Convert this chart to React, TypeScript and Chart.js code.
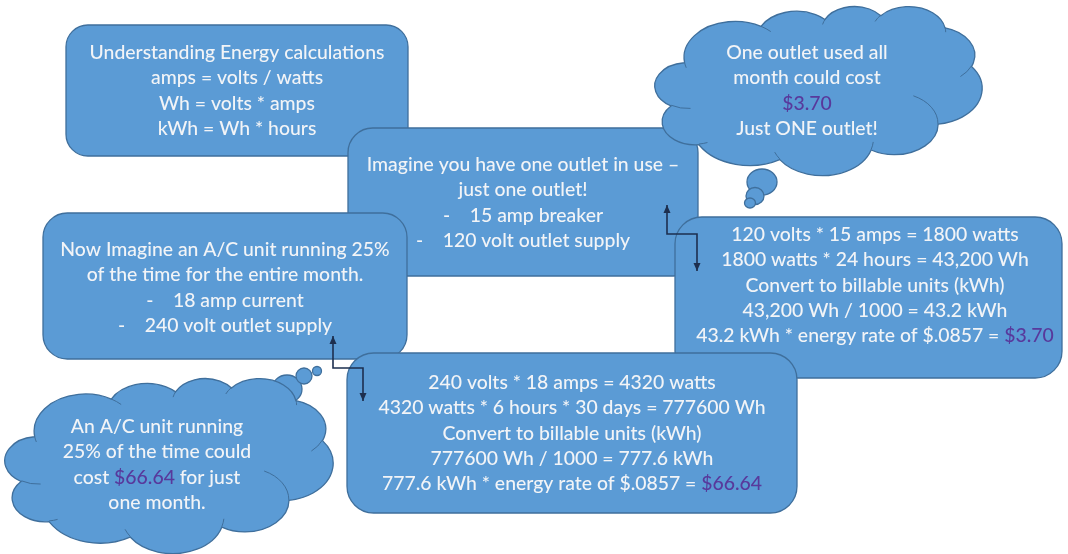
import React, { useEffect, useRef } from 'react';
import { Chart, registerables } from 'chart.js';

Chart.register(...registerables);

// ---------- Content (text of each panel; {..} marks highlighted price text) ----------
const introLines = [
  'Understanding Energy calculations',
  'amps = volts / watts',
  'Wh = volts * amps',
  'kWh = Wh * hours',
];
const outletLines = [
  'Imagine you have one outlet in use \u2013',
  'just one outlet!',
  '-    15 amp breaker',
  '-    120 volt outlet supply',
];
const outletCloudLines = ['One outlet used all', 'month could cost', '{$3.70}', 'Just ONE outlet!'];
const outletCalcLines = [
  '120 volts * 15 amps = 1800 watts',
  '1800 watts * 24 hours = 43,200 Wh',
  'Convert to billable units (kWh)',
  '43,200 Wh / 1000 = 43.2 kWh',
  '43.2 kWh * energy rate of $.0857 = {$3.70}',
];
const acLines = [
  'Now Imagine an A/C unit running 25%',
  'of the time for the entire month.',
  '-    18 amp current',
  '-    240 volt outlet supply',
];
const acCalcLines = [
  '240 volts * 18 amps = 4320 watts',
  '4320 watts * 6 hours * 30 days = 777600 Wh',
  'Convert to billable units (kWh)',
  '777600 Wh / 1000 = 777.6 kWh',
  '777.6 kWh * energy rate of $.0857 = {$66.64}',
];
const acCloudLines = ['An A/C unit running', '25% of the time could', 'cost {$66.64} for just', 'one month.'];

// ---------- Layout (positions in the 1068 x 554 diagram space) ----------
const W = 1068;
const H = 554;
const FILL = '#5b9bd5';
const EDGE = '#3f6f9c';
const TEXT = '#f2f4f7';
const PRICE = '#58399c';
const ARROW = '#1d2f4f';
const LINE_H = 25.2;
const FONT_FAMILY = 'Lato';
const FONT_WEIGHT = '500';

type Shape = {
  kind: 'box' | 'cloud';
  x0: number; y0: number; x1: number; y1: number;
  lines: string[]; cx: number; ty: number;
  bubbles?: number[][];
};

const shapes: Shape[] = [
  { kind: 'box', x0: 66, y0: 25, x1: 408, y1: 156, lines: introLines, cx: 237, ty: 53 },
  { kind: 'box', x0: 348, y0: 128, x1: 698, y1: 276, lines: outletLines, cx: 523, ty: 165 },
  {
    kind: 'cloud', x0: 655, y0: 6, x1: 982, y1: 175, lines: outletCloudLines, cx: 807, ty: 53,
    bubbles: [[762, 182, 15, 13], [755, 196, 9, 8.5], [750, 203, 5.5, 5]],
  },
  { kind: 'box', x0: 675, y0: 217, x1: 1062, y1: 378, lines: outletCalcLines, cx: 875, ty: 235 },
  { kind: 'box', x0: 43, y0: 213, x1: 407, y1: 359, lines: acLines, cx: 225, ty: 250 },
  { kind: 'box', x0: 347, y0: 353, x1: 797, y1: 513, lines: acCalcLines, cx: 572, ty: 383 },
  {
    kind: 'cloud', x0: 5, y0: 378, x1: 333, y1: 553, lines: acCloudLines, cx: 157, ty: 427,
    bubbles: [[287, 389, 15, 14], [304, 376, 8, 8], [317, 371, 4.5, 4.5]],
  },
];

// elbow connectors: first point = tip of start head, last point = tip of end head
const connectorA = [[667, 205], [667, 234], [697, 234], [697, 271]];
const connectorB = [[333, 336], [333, 368], [363, 368], [363, 401]];
const connectors = [connectorA, connectorB];

// Office "cloud" preset geometry (43200 x 43200 path space)
const CLOUD_START = [3900, 14370];
const CLOUD_ARCS = [
  [6753, 9190, -11429249, 7426832],
  [5333, 7267, -8646143, 5396714],
  [4365, 5945, -8748475, 5983381],
  [4857, 6595, -7859164, 7034504],
  [5333, 7273, -4722533, 6541615],
  [6775, 9220, -2776035, 7816140],
  [5785, 7867, 37501, 6842000],
  [6752, 9215, 1347096, 6910353],
  [7720, 10543, 3974558, 4542661],
  [4360, 5918, -16496525, 8804134],
  [4345, 5945, -14809710, 9151131],
];
const CLOUD_INNER = [
  [4693, 26177, 4345, 5945, 5204520, 1585770],
  [6928, 34899, 4360, 5918, 4416628, 686848],
  [16478, 39090, 6752, 9215, 8257449, 844866],
  [28827, 34751, 6752, 9215, 387196, 959901],
  [34129, 22954, 5785, 7867, -4217541, 4255042],
  [41798, 15354, 5333, 7273, 1819082, 1665090],
  [38324, 5426, 4857, 6595, -824660, 891534],
  [29078, 3952, 4857, 6595, -8950887, 1091722],
  [22141, 4720, 4365, 5945, -9809656, 1061181],
  [14000, 5192, 6753, 9190, -4002417, 739161],
  [4127, 15789, 6753, 9190, 9459261, 711490],
];

function arcSeg(
  ctx: CanvasRenderingContext2D, px: number, py: number,
  wR: number, hR: number, st: number, sw: number,
  map: (x: number, y: number) => number[], sx: number, sy: number,
) {
  const s = (st / 60000) * Math.PI / 180;
  const e = ((st + sw) / 60000) * Math.PI / 180;
  const t1 = Math.atan2(wR * Math.sin(s), hR * Math.cos(s));
  const t2 = Math.atan2(wR * Math.sin(e), hR * Math.cos(e));
  const cx = px - wR * Math.cos(t1);
  const cy = py - hR * Math.sin(t1);
  const [mx, my] = map(cx, cy);
  ctx.ellipse(mx, my, wR * sx, hR * sy, 0, t1, t2, sw < 0);
  return [cx + wR * Math.cos(t2), cy + hR * Math.sin(t2)];
}

function parseSegs(line: string) {
  const segs: { t: string; hi: boolean }[] = [];
  const re = /\{([^}]*)\}/g;
  let last = 0;
  let m: RegExpExecArray | null;
  while ((m = re.exec(line))) {
    if (m.index > last) segs.push({ t: line.slice(last, m.index), hi: false });
    segs.push({ t: m[1], hi: true });
    last = m.index + m[0].length;
  }
  if (last < line.length) segs.push({ t: line.slice(last), hi: false });
  return segs;
}

const diagramPlugin = {
  id: 'diagram',
  beforeDatasetsDraw(chart: any) {
    const ctx: CanvasRenderingContext2D = chart.ctx;
    const xs = chart.scales.x;
    const ys = chart.scales.y;
    const X = (v: number) => xs.getPixelForValue(v);
    const Y = (v: number) => ys.getPixelForValue(v);

    ctx.save();
    ctx.font = `${FONT_WEIGHT} 100px ${FONT_FAMILY}`;
    const ref = ctx.measureText(introLines[0]).width;
    const fontSize = (100 * (X(383) - X(88))) / ref;
    const font = `${FONT_WEIGHT} ${fontSize.toFixed(2)}px ${FONT_FAMILY}`;

    const drawText = (s: Shape) => {
      ctx.font = font;
      ctx.textBaseline = 'middle';
      ctx.textAlign = 'left';
      s.lines.forEach((line, i) => {
        const segs = parseSegs(line);
        const total = segs.reduce((a, g) => a + ctx.measureText(g.t).width, 0);
        let x = X(s.cx) - total / 2;
        const y = Y(s.ty + i * LINE_H);
        segs.forEach((g) => {
          ctx.fillStyle = g.hi ? PRICE : TEXT;
          ctx.fillText(g.t, x, y);
          x += ctx.measureText(g.t).width;
        });
      });
    };

    shapes.forEach((s) => {
      const x0 = X(s.x0), y0 = Y(s.y0), x1 = X(s.x1), y1 = Y(s.y1);
      const w = x1 - x0, h = y1 - y0;
      ctx.lineWidth = 1.3;
      ctx.strokeStyle = EDGE;
      ctx.fillStyle = FILL;
      if (s.kind === 'box') {
        const r = Math.min(w, h) * 0.16667;
        ctx.beginPath();
        ctx.roundRect(x0, y0, w, h, r);
        ctx.fill();
        ctx.stroke();
      } else {
        (s.bubbles || []).forEach(([bx, by, rx, ry]) => {
          ctx.beginPath();
          ctx.ellipse(X(bx), Y(by), rx, ry, 0, 0, Math.PI * 2);
          ctx.fill();
          ctx.stroke();
        });
        const sx = w / 43200, sy = h / 43200;
        const map = (px: number, py: number) => [x0 + px * sx, y0 + py * sy];
        ctx.beginPath();
        let [px, py] = CLOUD_START;
        const [mx, my] = map(px, py);
        ctx.moveTo(mx, my);
        CLOUD_ARCS.forEach(([wR, hR, st, sw]) => {
          [px, py] = arcSeg(ctx, px, py, wR, hR, st, sw, map, sx, sy);
        });
        ctx.closePath();
        ctx.fill();
        ctx.stroke();
        ctx.lineWidth = 1;
        CLOUD_INNER.forEach(([ix, iy, wR, hR, st, sw]) => {
          ctx.beginPath();
          const [ax, ay] = map(ix, iy);
          ctx.moveTo(ax, ay);
          arcSeg(ctx, ix, iy, wR, hR, st, sw, map, sx, sy);
          ctx.stroke();
        });
      }
      drawText(s);
    });
    ctx.restore();
  },
  afterDatasetsDraw(chart: any) {
    const ctx: CanvasRenderingContext2D = chart.ctx;
    const xs = chart.scales.x;
    const ys = chart.scales.y;
    const head = (tip: number[], from: number[]) => {
      const tx = xs.getPixelForValue(tip[0]);
      const ty = ys.getPixelForValue(tip[1]);
      const fx = xs.getPixelForValue(from[0]);
      const fy = ys.getPixelForValue(from[1]);
      const a = Math.atan2(ty - fy, tx - fx);
      const L = 8, Wd = 3.5;
      ctx.beginPath();
      ctx.moveTo(tx, ty);
      ctx.lineTo(tx - L * Math.cos(a) - Wd * Math.sin(a), ty - L * Math.sin(a) + Wd * Math.cos(a));
      ctx.lineTo(tx - L * Math.cos(a) + Wd * Math.sin(a), ty - L * Math.sin(a) - Wd * Math.cos(a));
      ctx.closePath();
      ctx.fill();
    };
    ctx.save();
    ctx.fillStyle = ARROW;
    connectors.forEach((pts) => {
      head(pts[0], pts[1]);
      head(pts[pts.length - 1], pts[pts.length - 2]);
    });
    ctx.restore();
  },
};

export default function App() {
  const canvasRef = useRef<HTMLCanvasElement | null>(null);

  useEffect(() => {
    const canvas = canvasRef.current;
    if (!canvas) return;
    const chart = new Chart(canvas, {
      type: 'scatter',
      data: {
        datasets: connectors.map((pts) => ({
          data: pts.map(([x, y]) => ({ x, y })),
          showLine: true,
          borderColor: ARROW,
          borderWidth: 1.6,
          pointRadius: 0,
          fill: false,
          tension: 0,
        })),
      },
      options: {
        responsive: false,
        animation: false,
        events: [],
        layout: { padding: 0 },
        plugins: { legend: { display: false }, tooltip: { enabled: false } },
        scales: {
          x: { type: 'linear', min: 0, max: W, display: false },
          y: { type: 'linear', min: 0, max: H, reverse: true, display: false },
        },
      },
      plugins: [diagramPlugin],
    } as any);
    const fonts: any = (document as any).fonts;
    if (fonts && fonts.load) {
      fonts.load(`${FONT_WEIGHT} 20px ${FONT_FAMILY}`).then(() => chart.draw()).catch(() => {});
    }
    return () => chart.destroy();
  }, []);

  return (
    <div style={{ position: 'fixed', left: 0, top: 0, width: W, height: H, background: '#ffffff' }}>
      <canvas ref={canvasRef} width={W} height={H} style={{ display: 'block' }} />
    </div>
  );
}
